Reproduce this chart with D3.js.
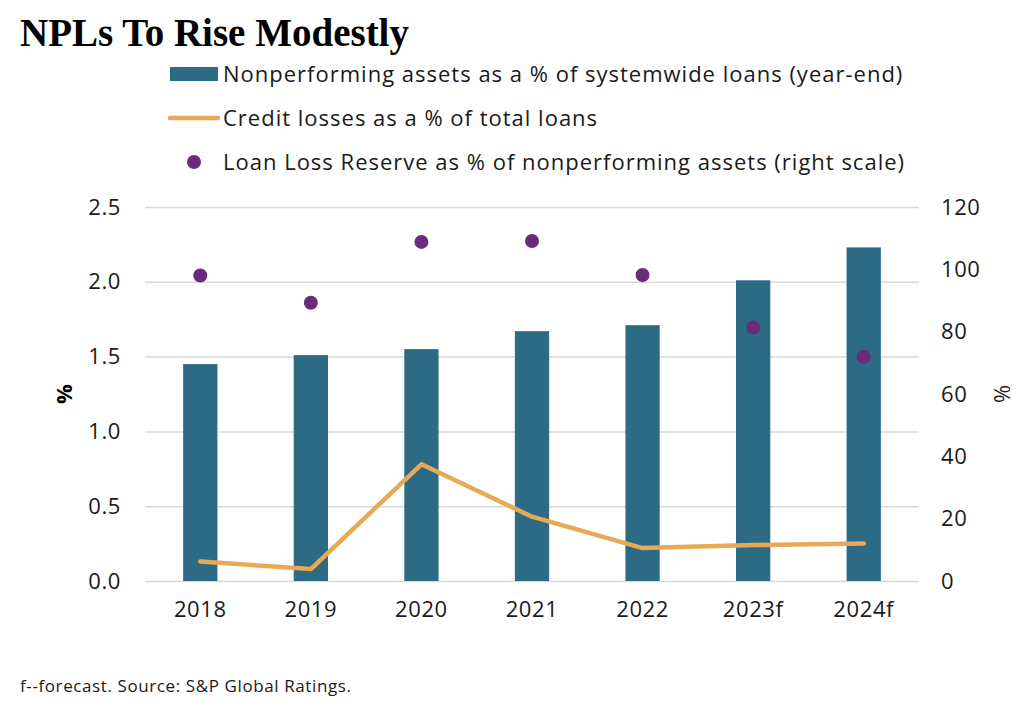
<!DOCTYPE html>
<html>
<head>
<meta charset="utf-8">
<script src="https://cdn.jsdelivr.net/npm/d3@7"></script>
<style>
  html, body { margin: 0; padding: 0; background: #fff; overflow: hidden; }
  svg { display: block; }
</style>
</head>
<body>
<div id="chart-area"></div>
<script>
// data
const years = ['2018', '2019', '2020', '2021', '2022', '2023f', '2024f'];
const npaShare = [1.45, 1.51, 1.55, 1.67, 1.71, 2.01, 2.23];
const creditLosses = [0.13, 0.08, 0.78, 0.43, 0.22, 0.24, 0.25];
const reserveCover = [98, 89.3, 108.8, 109.1, 98.2, 81.3, 71.9];
const leftTicks = [0, 0.5, 1.0, 1.5, 2.0, 2.5];
const rightTicks = [0, 20, 40, 60, 80, 100, 120];
const legendLabels = [
  'Nonperforming assets as a % of systemwide loans (year-end)',
  'Credit losses as a % of total loans',
  'Loan Loss Reserve as % of nonperforming assets (right scale)'
];

const width = 1034;
const height = 720;
const margin = {top: 207, right: 115, bottom: 139, left: 145};
const innerWidth = width - margin.left - margin.right;
const innerHeight = height - margin.top - margin.bottom;

const sans = '"Open Sans", Roboto, sans-serif';
const textColor = '#1a1a1a';
const barColor = '#2d6b85';
const lineColor = '#e8a956';
const dotColor = '#6c2a7c';

const svg = d3.select('#chart-area')
  .append('svg')
  .attr('width', width)
  .attr('height', height);

const g = svg.append('g')
  .attr('transform', `translate(${margin.left},${margin.top})`);

const x = d3.scaleBand()
  .domain(years)
  .range([0, innerWidth])
  .paddingInner(0.69)
  .paddingOuter(0.345);

const y = d3.scaleLinear().domain([0, 2.5]).range([innerHeight, 0]);
const y2 = d3.scaleLinear().domain([0, 120]).range([innerHeight, 0]);

function styleTicks(s) {
  s.attr('font-size', null).attr('font-family', null);
  s.select('.domain').remove();
  s.selectAll('text')
    .attr('font-family', sans)
    .attr('font-size', 22)
    .attr('letter-spacing', 0.6)
    .attr('fill', textColor);
}

// gridlines
g.append('g')
  .call(d3.axisLeft(y).tickValues(leftTicks).tickSize(-innerWidth).tickFormat(''))
  .call(s => s.select('.domain').remove())
  .call(s => s.selectAll('text').remove())
  .call(s => s.selectAll('line').attr('stroke', '#d9d9d9').attr('stroke-width', 1.5));

// left axis labels
g.append('g')
  .call(d3.axisLeft(y).tickValues(leftTicks).tickSize(0).tickPadding(24).tickFormat(d3.format('.1f')))
  .call(styleTicks);

// right axis labels
g.append('g')
  .attr('transform', `translate(${innerWidth},0)`)
  .call(d3.axisRight(y2).tickValues(rightTicks).tickSize(0).tickPadding(22))
  .call(styleTicks);

// x axis labels
g.append('g')
  .attr('transform', `translate(0,${innerHeight})`)
  .call(d3.axisBottom(x).tickSize(0).tickPadding(20))
  .call(styleTicks);

// bars
g.selectAll('rect.bar')
  .data(years)
  .enter()
  .append('rect')
  .attr('class', 'bar')
  .attr('x', d => x(d))
  .attr('width', x.bandwidth())
  .attr('y', (d, i) => y(npaShare[i]))
  .attr('height', (d, i) => innerHeight - y(npaShare[i]))
  .attr('fill', barColor);

// credit losses line
const line = d3.line()
  .x((d, i) => x(years[i]) + x.bandwidth() / 2)
  .y(d => y(d));

g.append('path')
  .datum(creditLosses)
  .attr('d', line)
  .attr('fill', 'none')
  .attr('stroke', lineColor)
  .attr('stroke-width', 4.5)
  .attr('stroke-linecap', 'round')
  .attr('stroke-linejoin', 'round');

// reserve dots (right scale)
g.selectAll('circle.dot')
  .data(reserveCover)
  .enter()
  .append('circle')
  .attr('class', 'dot')
  .attr('cx', (d, i) => x(years[i]) + x.bandwidth() / 2)
  .attr('cy', d => y2(d))
  .attr('r', 7)
  .attr('fill', dotColor);

// axis titles
svg.append('text')
  .text('%')
  .attr('font-family', sans)
  .attr('font-size', 22)
  .attr('font-weight', 'bold')
  .attr('fill', '#000')
  .attr('text-anchor', 'middle')
  .attr('transform', `translate(72,${margin.top + innerHeight / 2}) rotate(-90)`);

svg.append('text')
  .text('%')
  .attr('font-family', sans)
  .attr('font-size', 22)
  .attr('fill', textColor)
  .attr('text-anchor', 'middle')
  .attr('transform', `translate(1010,${margin.top + innerHeight / 2}) rotate(-90)`);

// title
svg.append('text')
  .text('NPLs To Rise Modestly')
  .attr('x', 20)
  .attr('y', 46)
  .attr('font-family', '"Liberation Serif", "DejaVu Serif", serif')
  .attr('font-size', 39)
  .attr('font-weight', 'bold')
  .attr('fill', '#000');

// legend
const legend = svg.append('g').attr('transform', 'translate(170,0)');
const legendY = [74, 118, 162];

legend.append('rect')
  .attr('x', 0).attr('y', legendY[0] - 7)
  .attr('width', 48).attr('height', 14)
  .attr('fill', barColor);

legend.append('line')
  .attr('x1', 0).attr('x2', 48)
  .attr('y1', legendY[1]).attr('y2', legendY[1])
  .attr('stroke', lineColor)
  .attr('stroke-width', 4.5)
  .attr('stroke-linecap', 'round');

legend.append('circle')
  .attr('cx', 24).attr('cy', legendY[2])
  .attr('r', 7)
  .attr('fill', dotColor);

legend.selectAll('text.lab')
  .data(legendLabels)
  .enter()
  .append('text')
  .attr('class', 'lab')
  .attr('x', 53)
  .attr('y', (d, i) => legendY[i])
  .attr('dy', '0.35em')
  .attr('font-family', sans)
  .attr('font-size', 22)
  .attr('letter-spacing', 1)
  .attr('fill', textColor)
  .text(d => d);

// footnote
svg.append('text')
  .text('f--forecast. Source: S&P Global Ratings.')
  .attr('x', 20)
  .attr('y', 692)
  .attr('font-family', sans)
  .attr('font-size', 17)
  .attr('letter-spacing', 0.6)
  .attr('fill', textColor);
</script>
</body>
</html>
